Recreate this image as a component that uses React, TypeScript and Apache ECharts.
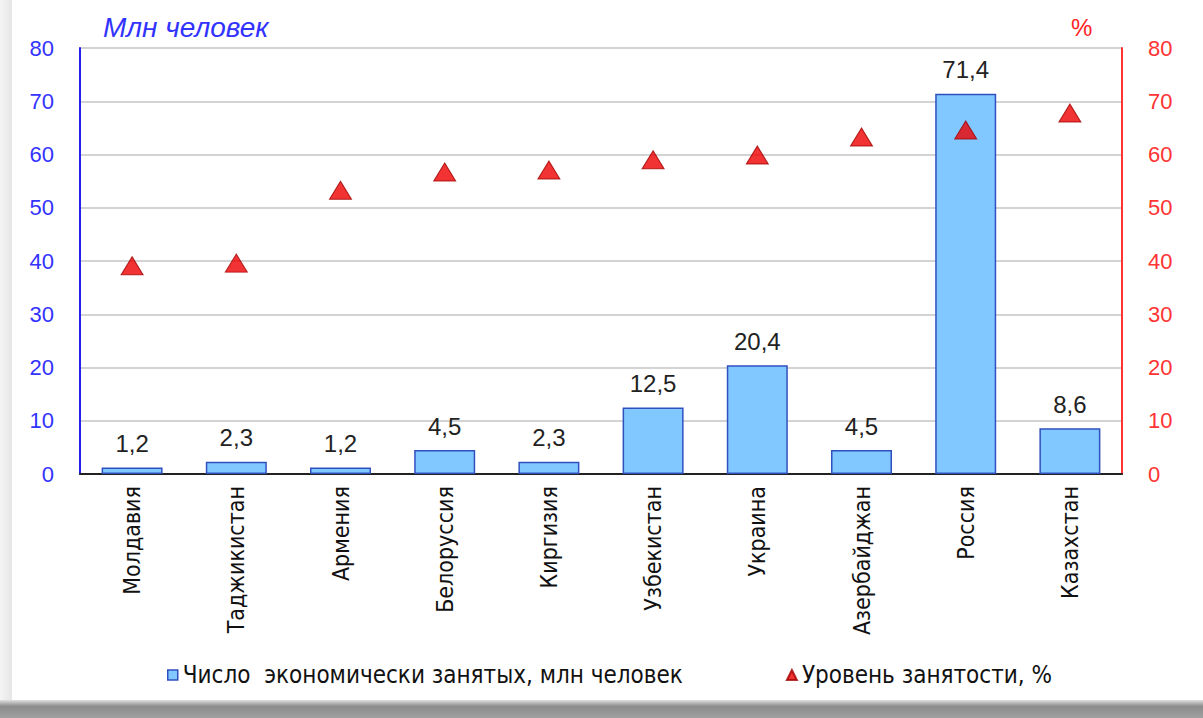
import React, { useEffect, useRef } from "react";
import * as echarts from "echarts";

const categories = ["Молдавия", "Таджикистан", "Армения", "Белоруссия", "Киргизия", "Узбекистан", "Украина", "Азербайджан", "Россия", "Казахстан"];
const employed = [1.2, 2.3, 1.2, 4.5, 2.3, 12.5, 20.4, 4.5, 71.4, 8.6];
const employmentRate = [39.1, 39.6, 53.3, 56.7, 57.1, 59.0, 59.9, 63.3, 64.6, 67.8];
const barName = "Число  экономически занятых, млн человек";
const rateName = "Уровень занятости, %";
const leftTitle = "Млн человек";
const rightTitle = "%";

const NARROW = "'Liberation Sans Narrow', 'Arial Narrow', 'DejaVu Sans Condensed', sans-serif";
const ARIAL = "'Liberation Sans', Arial, sans-serif";

export default function App() {
  const ref = useRef<HTMLDivElement>(null);
  useEffect(() => {
    document.body.style.margin = "0";
    const chart = echarts.init(ref.current!, undefined, { renderer: "svg" });
    chart.setOption({
      animation: false,
      backgroundColor: "#ffffff",
      grid: { left: 80, right: 81, top: 48, bottom: 244 },
      graphic: [
        {
          type: "rect",
          shape: { x: 0, y: 0, width: 12, height: 718 },
          style: {
            fill: new echarts.graphic.LinearGradient(0, 0, 1, 0, [
              { offset: 0, color: "#f4f4f4" },
              { offset: 1, color: "#e6e6e6" },
            ]),
          },
          silent: true,
          z: -10,
        },
        {
          type: "rect",
          shape: { x: 0, y: 700, width: 1203, height: 18 },
          style: {
            fill: new echarts.graphic.LinearGradient(0, 0, 0, 1, [
              { offset: 0, color: "#e0e0e0" },
              { offset: 0.35, color: "#8c8c8c" },
              { offset: 1, color: "#a0a0a0" },
            ]),
          },
          silent: true,
          z: -10,
        },
        {
          type: "text",
          left: 103,
          top: 13,
          style: { text: leftTitle, fill: "#3333ff", font: `italic 28px ${ARIAL}` },
        },
        {
          type: "text",
          left: 1071,
          top: 15,
          style: { text: rightTitle, fill: "#ff2222", font: `24px ${ARIAL}` },
        },
      ],
      legend: {
        bottom: 26,
        left: 162,
        itemGap: 103,
        textStyle: { fontFamily: NARROW, fontSize: 24, color: "#111" },
        data: [
          { name: barName, icon: "rect", itemStyle: { color: "#80c8ff", borderColor: "#3050c0", borderWidth: 1.5 } },
          { name: rateName, icon: "triangle", itemStyle: { color: "#ee0000" } },
        ],
        itemWidth: 10,
        itemHeight: 10,
      },
      xAxis: {
        type: "category",
        data: categories,
        axisLine: { lineStyle: { color: "#222", width: 2 } },
        axisTick: { show: false },
        axisLabel: {
          rotate: 90,
          margin: 12,
          interval: 0,
          fontFamily: NARROW,
          fontSize: 23,
          color: "#111",
        },
      },
      yAxis: [
        {
          type: "value",
          min: 0,
          max: 80,
          interval: 10,
          axisLine: { show: true, lineStyle: { color: "#2222ee", width: 2 } },
          axisTick: { show: false },
          splitLine: { lineStyle: { color: "#c4c4c4", width: 1.5 } },
          axisLabel: { fontFamily: ARIAL, fontSize: 22, color: "#3333ff", margin: 26 },
        },
        {
          type: "value",
          min: 0,
          max: 80,
          interval: 10,
          position: "right",
          axisLine: { show: true, lineStyle: { color: "#ff3333", width: 2 } },
          axisTick: { show: false },
          splitLine: { show: false },
          axisLabel: { fontFamily: ARIAL, fontSize: 22, color: "#ff3333", margin: 26 },
        },
      ],
      series: [
        {
          name: barName,
          type: "bar",
          data: employed,
          barWidth: 61,
          itemStyle: { color: "#80c8ff", borderColor: "#3050c0", borderWidth: 1.5 },
          label: {
            show: true,
            position: "top",
            distance: 12,
            fontFamily: ARIAL,
            fontSize: 24,
            color: "#222",
            formatter: (p: any) => String(p.value).replace(".", ","),
          },
        },
        {
          name: rateName,
          type: "scatter",
          yAxisIndex: 1,
          data: employmentRate,
          symbol: "triangle",
          symbolSize: [22, 18],
          itemStyle: { color: "#ee0000", borderColor: "#a00000", borderWidth: 1 },
          z: 5,
        },
      ],
    });
    return () => chart.dispose();
  }, []);
  return <div ref={ref} style={{ width: 1203, height: 718 }} />;
}
